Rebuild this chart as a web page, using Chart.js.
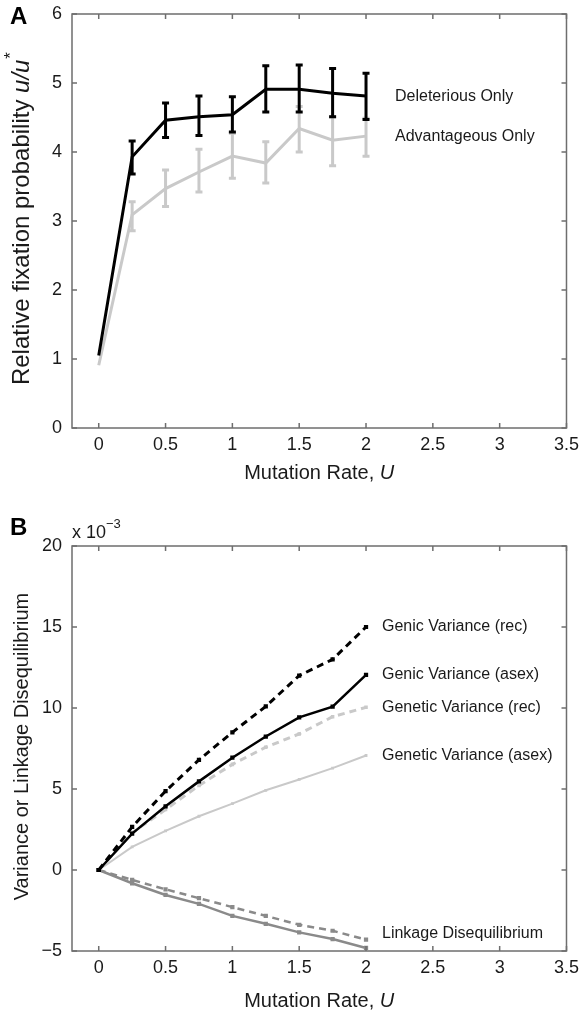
<!DOCTYPE html>
<html>
<head>
<meta charset="utf-8">
<script src="https://cdn.jsdelivr.net/npm/chart.js@4.4.0/dist/chart.umd.min.js"></script>
<style>
  html, body { margin: 0; padding: 0; background: #fff; }
  canvas { position: absolute; left: 0; }
  #panelA { top: 0; }
  #panelB { top: 490px; }
</style>
</head>
<body>
<canvas id="panelA" width="585" height="490"></canvas>
<canvas id="panelB" width="585" height="522"></canvas>
<script>
const FONT = "'Liberation Sans', Arial, Helvetica, sans-serif";
const INK = '#1a1a1a';
const AXIS = '#6e6e6e';
const BLACK = '#000000';
const LIGHT = '#c9c9c9';
const MID = '#8a8a8a';

// shared x axis
const xTicks = [0, 0.5, 1, 1.5, 2, 2.5, 3, 3.5];
const mutationRate = [0, 0.25, 0.5, 0.75, 1, 1.25, 1.5, 1.75, 2];

// panel A: relative fixation probability
const yTicksA = [0, 1, 2, 3, 4, 5, 6];
const deleterious     = [1.05, 3.93, 4.46, 4.51, 4.54, 4.91, 4.91, 4.85, 4.81];
const deleteriousLow  = [1.05, 3.68, 4.21, 4.24, 4.29, 4.58, 4.58, 4.51, 4.47];
const deleteriousHigh = [1.05, 4.16, 4.71, 4.81, 4.80, 5.25, 5.26, 5.21, 5.14];
const advantageous     = [0.91, 3.09, 3.47, 3.71, 3.94, 3.84, 4.34, 4.17, 4.23];
const advantageousLow  = [0.91, 2.86, 3.21, 3.42, 3.62, 3.55, 4.00, 3.80, 3.94];
const advantageousHigh = [0.91, 3.28, 3.74, 4.04, 4.27, 4.15, 4.66, 4.51, 4.49];

// panel B: variances and LD, in units of 10^-3
const yTicksB = [-5, 0, 5, 10, 15, 20];
const genicRec    = [0, 2.66, 4.87, 6.80, 8.50, 10.10, 12.00, 13.00, 15.00];
const genicAsex   = [0, 2.25, 3.93, 5.47, 6.93, 8.24, 9.42, 10.08, 12.05];
const geneticRec  = [0, 2.30, 3.73, 5.22, 6.52, 7.58, 8.40, 9.46, 10.04];
const geneticAsex = [0, 1.43, 2.42, 3.32, 4.10, 4.92, 5.59, 6.29, 7.07];
const ldRec  = [0, -0.61, -1.19, -1.74, -2.29, -2.83, -3.38, -3.75, -4.30];
const ldAsex = [0, -0.82, -1.54, -2.09, -2.83, -3.32, -3.85, -4.26, -4.81];

const toXY = (xs, ys) => xs.map((x, i) => ({ x, y: ys[i] }));
const fmt = v => (v < 0 ? '\u2212' + Math.abs(v) : String(v));

// text built from runs so parts can be italic or superscript
function drawRuns(ctx, runs, x, y, size, align) {
    const fontOf = r => (r.italic ? 'italic ' : '') + (r.bold ? 'bold ' : '') +
        (r.sup ? Math.round(size * 0.7) : size) + 'px ' + FONT;
    let total = 0;
    runs.forEach(r => { ctx.font = fontOf(r); total += ctx.measureText(r.text).width; });
    let cx = align === 'center' ? x - total / 2 : x;
    ctx.textAlign = 'left';
    ctx.textBaseline = 'middle';
    runs.forEach(r => {
        ctx.font = fontOf(r);
        ctx.fillText(r.text, cx, r.sup ? y - size * 0.45 : y);
        cx += ctx.measureText(r.text).width;
    });
}

// MATLAB-style box with inward ticks, titles, panel letter and line tags
const framePlugin = {
    id: 'frame',
    afterDraw(chart, args, opts) {
        const { ctx, chartArea: a, scales } = chart;
        ctx.save();
        ctx.strokeStyle = AXIS;
        ctx.lineWidth = 1.5;
        ctx.strokeRect(a.left, a.top, a.right - a.left, a.bottom - a.top);
        ctx.beginPath();
        scales.x.ticks.forEach(t => {
            const px = scales.x.getPixelForValue(t.value);
            ctx.moveTo(px, a.bottom); ctx.lineTo(px, a.bottom - 5);
            ctx.moveTo(px, a.top); ctx.lineTo(px, a.top + 5);
        });
        scales.y.ticks.forEach(t => {
            const py = scales.y.getPixelForValue(t.value);
            ctx.moveTo(a.left, py); ctx.lineTo(a.left + 5, py);
            ctx.moveTo(a.right, py); ctx.lineTo(a.right - 5, py);
        });
        ctx.stroke();

        ctx.fillStyle = INK;
        drawRuns(ctx, opts.xTitle, (a.left + a.right) / 2, a.bottom + opts.xTitleGap, 20, 'center');
        ctx.save();
        ctx.translate(22, (a.top + a.bottom) / 2 - 2);
        ctx.rotate(-Math.PI / 2);
        drawRuns(ctx, opts.yTitle, 0, 0, opts.yTitleSize, 'center');
        ctx.restore();

        ctx.fillStyle = '#000';
        ctx.font = 'bold 24px ' + FONT;
        ctx.textAlign = 'left';
        ctx.textBaseline = 'middle';
        ctx.fillText(opts.letter, 10, opts.letterY);

        if (opts.exponent) {
            ctx.fillStyle = INK;
            drawRuns(ctx, opts.exponent, a.left, a.top - 13, 18, 'left');
        }

        ctx.fillStyle = INK;
        ctx.font = '16px ' + FONT;
        chart.data.datasets.forEach(ds => {
            if (!ds.tag) return;
            const last = ds.data[ds.data.length - 1];
            const px = scales.x.getPixelForValue(last.x) + opts.tagGap;
            const py = scales.y.getPixelForValue(last.y) + (ds.tagDy || 0);
            ctx.fillText(ds.tag, px, py);
        });
        ctx.restore();
    }
};

const errorBarPlugin = {
    id: 'errorBars',
    afterDatasetDraw(chart, args) {
        const ds = chart.data.datasets[args.index];
        if (!ds.errLow) return;
        const { ctx, scales: { x, y } } = chart;
        ctx.save();
        ctx.strokeStyle = ds.borderColor;
        ctx.lineWidth = 3;
        ds.data.forEach((p, i) => {
            const px = x.getPixelForValue(p.x);
            const lo = y.getPixelForValue(ds.errLow[i]);
            const hi = y.getPixelForValue(ds.errHigh[i]);
            if (Math.abs(lo - hi) < 1) return;
            ctx.beginPath();
            ctx.moveTo(px, lo); ctx.lineTo(px, hi);
            ctx.moveTo(px - 3.5, lo); ctx.lineTo(px + 3.5, lo);
            ctx.moveTo(px - 3.5, hi); ctx.lineTo(px + 3.5, hi);
            ctx.stroke();
        });
        ctx.restore();
    }
};

function xScale(height) {
    return {
        type: 'linear', min: -0.2, max: 3.5,
        afterBuildTicks: s => { s.ticks = xTicks.map(v => ({ value: v })); },
        afterFit: s => { s.height = height; },
        grid: { display: false, drawTicks: false },
        border: { display: false },
        ticks: { color: INK, font: { family: FONT, size: 18 }, padding: 6, maxRotation: 0, autoSkip: false, callback: fmt }
    };
}

function yScale(min, max, ticks) {
    return {
        type: 'linear', min, max,
        afterBuildTicks: s => { s.ticks = ticks.map(v => ({ value: v })); },
        afterFit: s => { s.width = 72; s.paddingTop = 0; s.paddingBottom = 0; },
        grid: { display: false, drawTicks: false },
        border: { display: false },
        ticks: { color: INK, font: { family: FONT, size: 18 }, padding: 10, autoSkip: false, callback: fmt }
    };
}

const common = {
    responsive: false,
    animation: false,
    devicePixelRatio: 1,
    elements: { line: { tension: 0 } },
};

new Chart(document.getElementById('panelA').getContext('2d'), {
    type: 'line',
    data: {
        datasets: [{
            label: 'Deleterious Only',
            tag: 'Deleterious Only',
            data: toXY(mutationRate, deleterious),
            errLow: deleteriousLow,
            errHigh: deleteriousHigh,
            borderColor: BLACK,
            borderWidth: 3,
            pointRadius: 0,
        }, {
            label: 'Advantageous Only',
            tag: 'Advantageous Only',
            data: toXY(mutationRate, advantageous),
            errLow: advantageousLow,
            errHigh: advantageousHigh,
            borderColor: LIGHT,
            borderWidth: 3,
            pointRadius: 0,
        }]
    },
    options: {
        ...common,
        layout: { padding: { top: 14, right: 18, left: 0, bottom: 0 } },
        scales: { x: xScale(62), y: yScale(0, 6, yTicksA) },
        plugins: {
            legend: { display: false },
            tooltip: { enabled: false },
            frame: {
                letter: 'A', letterY: 17,
                xTitle: [{ text: 'Mutation Rate, ' }, { text: 'U', italic: true }],
                xTitleGap: 45,
                yTitle: [{ text: 'Relative fixation probability ' }, { text: 'u/u', italic: true }, { text: '*', italic: true, sup: true }],
                yTitleSize: 24,
                tagGap: 29,
            }
        }
    },
    plugins: [framePlugin, errorBarPlugin]
});

const markerSet = (color, width, dash, radius) => ({
    borderColor: color,
    backgroundColor: color,
    borderWidth: width,
    borderDash: dash,
    pointStyle: 'rect',
    pointRadius: radius,
    pointBorderWidth: 0,
    pointBackgroundColor: color,
});

new Chart(document.getElementById('panelB').getContext('2d'), {
    type: 'line',
    data: {
        datasets: [
            { label: 'Genic Variance (rec)', tag: 'Genic Variance (rec)', data: toXY(mutationRate, genicRec), ...markerSet(BLACK, 3, [7, 5], 3) },
            { label: 'Genic Variance (asex)', tag: 'Genic Variance (asex)', data: toXY(mutationRate, genicAsex), ...markerSet(BLACK, 2.5, [], 3) },
            { label: 'Genetic Variance (rec)', tag: 'Genetic Variance (rec)', data: toXY(mutationRate, geneticRec), ...markerSet(LIGHT, 3, [7, 5], 2.5) },
            { label: 'Genetic Variance (asex)', tag: 'Genetic Variance (asex)', data: toXY(mutationRate, geneticAsex), ...markerSet(LIGHT, 2, [], 2) },
            { label: 'Linkage Disequilibrium (rec)', tag: 'Linkage Disequilibrium', tagDy: -6, data: toXY(mutationRate, ldRec), ...markerSet(MID, 2.5, [7, 5], 3) },
            { label: 'Linkage Disequilibrium (asex)', data: toXY(mutationRate, ldAsex), ...markerSet(MID, 2.5, [], 3) },
        ]
    },
    options: {
        ...common,
        layout: { padding: { top: 56, right: 18, left: 0, bottom: 0 } },
        scales: { x: xScale(61), y: yScale(-5, 20, yTicksB) },
        plugins: {
            legend: { display: false },
            tooltip: { enabled: false },
            frame: {
                letter: 'B', letterY: 38,
                xTitle: [{ text: 'Mutation Rate, ' }, { text: 'U', italic: true }],
                xTitleGap: 50,
                yTitle: [{ text: 'Variance or Linkage Disequilibrium' }],
                yTitleSize: 20,
                exponent: [{ text: 'x 10' }, { text: '\u22123', sup: true }],
                tagGap: 16,
            }
        }
    },
    plugins: [framePlugin]
});
</script>
</body>
</html>
